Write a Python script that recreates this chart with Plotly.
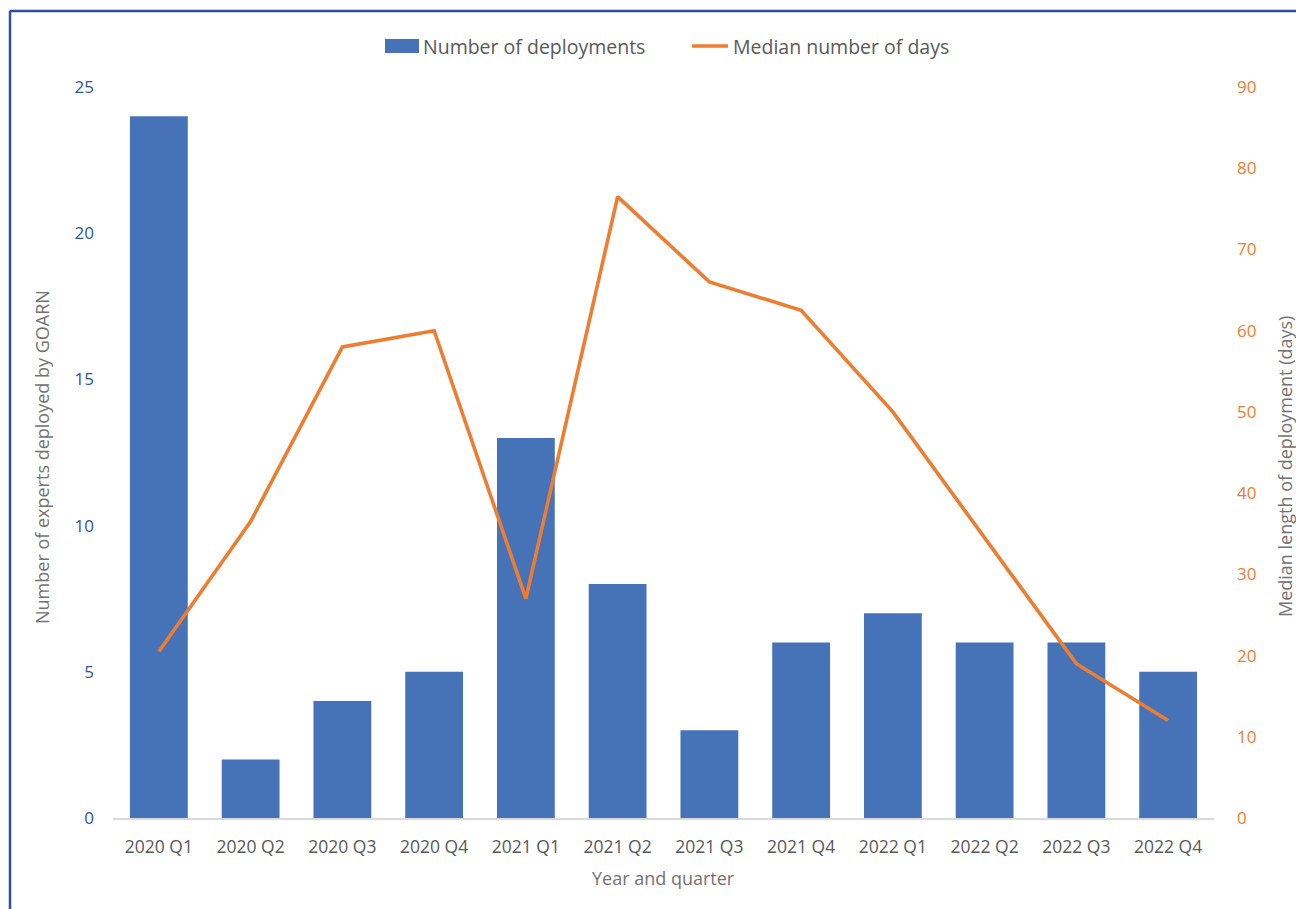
import plotly.graph_objects as go

quarters = ["2020 Q1", "2020 Q2", "2020 Q3", "2020 Q4",
            "2021 Q1", "2021 Q2", "2021 Q3", "2021 Q4",
            "2022 Q1", "2022 Q2", "2022 Q3", "2022 Q4"]
deployments = [24, 2, 4, 5, 13, 8, 3, 6, 7, 6, 6, 5]
median_days = [20.5, 36.5, 58, 60, 27, 76.5, 66, 62.5, 50, 34.5, 19, 12]

BLUE = "#4672B8"
ORANGE = "#ED7D31"
GREY = "#767171"
TICK_GREY = "#595959"
FONT = "Open Sans, sans-serif"

# plot area in pixels: x 113..1214, y 87..818
L, R, T, B = 113, 1214, 87, 818


def px(x):
    return (x - L) / (R - L)


def py(y):
    return (B - y) / (B - T)


fig = go.Figure()
fig.add_trace(go.Bar(
    x=quarters, y=deployments, name="Number of deployments",
    marker=dict(color=BLUE, line=dict(width=0)), yaxis="y",
))
fig.add_trace(go.Scatter(
    x=quarters, y=median_days, name="Median number of days",
    mode="lines", line=dict(color=ORANGE, width=3.6), yaxis="y2",
))

annotations = [
    dict(text="Number of experts deployed by GOARN", x=px(42), y=py(457),
         textangle=-90, font=dict(size=18, color=GREY)),
    dict(text="Median length of deployment (days)", x=px(1285), y=py(467),
         textangle=-90, font=dict(size=18, color=GREY)),
    dict(text="Year and quarter", x=px(663), y=py(878),
         font=dict(size=18, color=GREY)),
    dict(text="Number of deployments", x=px(421), y=py(46), xanchor="left",
         font=dict(size=19.5, color=TICK_GREY)),
    dict(text="Median number of days", x=px(731), y=py(46), xanchor="left",
         font=dict(size=19.5, color=TICK_GREY)),
]
for a in annotations:
    a.setdefault("xanchor", "center")
    a.update(xref="paper", yref="paper", showarrow=False, yanchor="middle")

shapes = [
    # legend keys
    dict(type="rect", x0=px(385), x1=px(419), y0=py(39), y1=py(53),
         fillcolor=BLUE, line=dict(width=0)),
    dict(type="line", x0=px(692), x1=px(728), y0=py(46), y1=py(46),
         line=dict(color=ORANGE, width=3.6)),
    # frame
    dict(type="line", x0=px(10), x1=px(1310), y0=py(11), y1=py(11),
         line=dict(color="#2F4F9F", width=2.5)),
    dict(type="line", x0=px(10), x1=px(10), y0=py(11), y1=py(920),
         line=dict(color="#2F4F9F", width=2.5)),
]
for s in shapes:
    s.update(xref="paper", yref="paper")

fig.update_layout(
    width=1296, height=909,
    margin=dict(l=L, r=1296 - R, t=T, b=909 - B),
    paper_bgcolor="white", plot_bgcolor="white",
    font=dict(family=FONT, size=17, color=TICK_GREY),
    bargap=0.37,
    showlegend=False,
    xaxis=dict(showgrid=False, showline=True, linecolor="#D9D9D9", linewidth=2,
               ticks="", tickfont=dict(size=17.5, color=TICK_GREY),
               ticklabelstandoff=12, zeroline=False),
    yaxis=dict(range=[0, 25], dtick=5, showgrid=False, zeroline=False,
               showline=False, ticks="", tickfont=dict(size=17, color="#2F5597"),
               ticklabelstandoff=18),
    yaxis2=dict(range=[0, 90], dtick=10, overlaying="y", side="right",
                showgrid=False, zeroline=False, showline=False, ticks="",
                tickfont=dict(size=17, color=ORANGE), ticklabelstandoff=22),
    annotations=annotations,
    shapes=shapes,
)

fig.write_html("out.html")
